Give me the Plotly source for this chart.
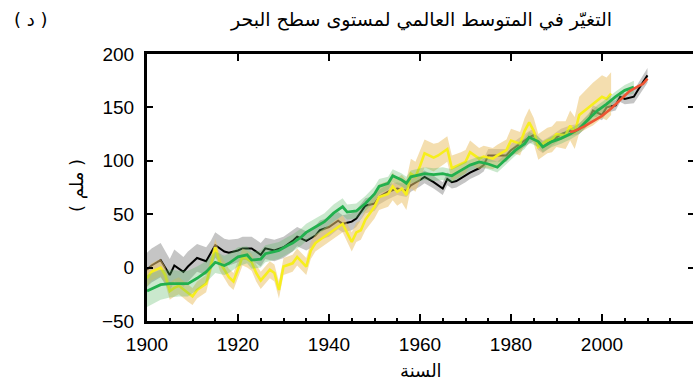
import plotly.graph_objects as go

# ---------------- data ----------------
black_years = [1900, 1901, 1903, 1905, 1906, 1908, 1909, 1911, 1913, 1914, 1915, 1917, 1918, 1920,
               1921, 1923, 1925, 1926, 1928, 1930, 1932, 1933, 1935, 1937, 1938, 1940, 1942, 1943,
               1945, 1946, 1948, 1950, 1951, 1953, 1955, 1957, 1958, 1960, 1961, 1963, 1965, 1966,
               1967, 1968, 1970, 1971, 1973, 1974, 1975, 1977, 1979, 1980, 1982, 1984, 1985, 1986,
               1987, 1989, 1991, 1993, 1995, 1997, 1998, 2000, 2001, 2003, 2004, 2005, 2007, 2008,
               2010]
black_vals = [-2, 2, 7, -7, 2, -4, 1, 9, 6, 13, 21, 15, 14, 16,
              18, 18, 12, 18, 16, 19, 25, 29, 25, 30, 35, 38, 44, 41,
              43, 46, 58, 60, 66, 71, 74, 72, 77, 82, 85, 80, 74, 83,
              80, 81, 86, 89, 93, 96, 105, 105, 105, 110, 116, 122, 124, 116,
              113, 119, 125, 128, 130, 138, 147, 143, 150, 152, 160, 158, 160, 167,
              180]
black_err = [16, 16, 16, 15, 15, 14, 14, 13, 13, 12, 12, 12, 12, 11,
             11, 11, 11, 10, 10, 10, 10, 9, 9, 9, 9, 9, 8, 8,
             8, 8, 7, 7, 7, 7, 6, 6, 6, 6, 6, 6, 6, 6,
             6, 6, 6, 6, 6, 6, 6, 6, 6, 6, 6, 6, 6, 6,
             6, 5, 5, 5, 5, 5, 5, 5, 5, 5, 5, 5, 6, 6,
             7]

yellow_years = [1900, 1901, 1903, 1904, 1905, 1906, 1907, 1909, 1910, 1911, 1913, 1914, 1915, 1916,
                1918, 1919, 1920, 1921, 1922, 1923, 1924, 1925, 1927, 1928, 1929, 1930, 1932, 1933,
                1935, 1936, 1937, 1939, 1940, 1942, 1943, 1945, 1946, 1947, 1948, 1950, 1951, 1953,
                1954, 1955, 1956, 1957, 1958, 1959, 1960, 1961, 1963, 1964, 1966, 1967, 1969, 1970,
                1971, 1973, 1974, 1976, 1977, 1979, 1980, 1982, 1983, 1984, 1985, 1986, 1988, 1989,
                1990, 1992, 1993, 1994, 1995, 1997, 1998, 2000, 2001, 2002]
yellow_vals = [-10, -4, 0, -7, -22, -19, -17, -24, -27, -21, -15, 1, 19, 5,
               -9, -13, -1, 10, 8, 5, -5, -12, -2, -5, -21, 1, 4, 10,
               1, 16, 23, 29, 32, 38, 41, 24, 33, 35, 45, 57, 66, 69,
               76, 71, 74, 68, 88, 85, 95, 107, 103, 105, 111, 93, 97, 99,
               108, 102, 104, 102, 105, 110, 119, 116, 128, 136, 128, 113, 119, 120,
               125, 124, 133, 126, 143, 150, 153, 160, 158, 163]
yellow_err = [8, 8, 8, 8, 8, 8, 8, 8, 8, 8, 8, 8, 8, 8,
              8, 8, 8, 8, 8, 8, 8, 8, 8, 8, 8, 8, 8, 8,
              8, 8, 8, 8, 8, 8, 8, 9, 9, 9, 10, 11, 12, 12,
              13, 13, 13, 14, 14, 14, 14, 13, 13, 12, 12, 12, 11, 11,
              11, 10, 10, 10, 10, 10, 11, 11, 12, 13, 12, 12, 12, 12,
              12, 13, 14, 15, 17, 19, 20, 20, 20, 20]

green_years = [1900, 1903, 1905, 1907, 1909, 1911, 1913, 1915, 1917, 1918, 1920, 1922, 1923, 1925,
               1926, 1928, 1929, 1931, 1932, 1934, 1935, 1937, 1939, 1941, 1943, 1944, 1946, 1948,
               1950, 1951, 1953, 1954, 1956, 1957, 1958, 1961, 1963, 1965, 1967, 1969, 1971, 1973,
               1975, 1977, 1979, 1981, 1983, 1984, 1986, 1987, 1989, 1991, 1993, 1995, 1997, 1999,
               2001, 2003, 2005, 2007]
green_vals = [-22, -16, -15, -15, -15, -10, -4, 5, 2, 4, 10, 12, 7, 8,
              13, 15, 16, 21, 23, 29, 33, 38, 43, 51, 57, 52, 53, 60,
              69, 76, 79, 86, 82, 79, 85, 88, 87, 88, 86, 91, 96, 99,
              97, 94, 102, 110, 116, 122, 118, 113, 118, 121, 125, 130, 139, 147,
              153, 160, 166, 169]
green_err = [15, 14, 13, 12, 12, 11, 10, 10, 9, 9, 9, 8, 8, 8,
             8, 8, 8, 8, 8, 8, 8, 8, 8, 8, 8, 7, 7, 7,
             7, 7, 6, 6, 6, 6, 6, 6, 6, 6, 6, 6, 5, 5,
             5, 5, 5, 5, 5, 5, 5, 5, 5, 5, 5, 5, 5, 5,
             5, 5, 5, 6]

red_years = [1993, 1994, 1996, 1998, 2000, 2002, 2004, 2006, 2008, 2009, 2010]
red_vals = [127, 128, 132, 137, 142, 149, 157, 165, 170, 172, 177]

x_ticks = [1900, 1920, 1940, 1960, 1980, 2000]
y_ticks = [-50, 0, 50, 100, 150, 200]

title_text = "التغيّر في المتوسط العالمي لمستوى سطح البحر"
panel_label = "( د )"
y_title = "( ملم )"
x_title = "السنة"

# ---------------- figure ----------------
fig = go.Figure()


def band(years, vals, err, color):
    upper = [v + e for v, e in zip(vals, err)]
    lower = [v - e for v, e in zip(vals, err)]
    return go.Scatter(x=years + years[::-1], y=upper + lower[::-1], fill="toself",
                      fillcolor=color, line=dict(width=0), mode="lines",
                      hoverinfo="skip", showlegend=False)


def line(years, vals, color, width=2.2):
    return go.Scatter(x=years, y=vals, mode="lines", line=dict(color=color, width=width),
                      showlegend=False)


fig.add_trace(band(black_years, black_vals, black_err, "rgba(150,150,150,0.55)"))
fig.add_trace(line(black_years, black_vals, "#000000", 2))
fig.add_trace(band(yellow_years, yellow_vals, yellow_err, "rgba(235,195,110,0.55)"))
fig.add_trace(line(yellow_years, yellow_vals, "#f7ee1c", 2.6))
fig.add_trace(band(green_years, green_vals, green_err, "rgba(90,185,100,0.32)"))
fig.add_trace(line(green_years, green_vals, "#22b04e", 2.8))
fig.add_trace(line(red_years, red_vals, "#ee5533", 2.6))

# helper invisible traces for the mirror axes
fig.add_trace(go.Scatter(x=[1900], y=[0], xaxis="x2", yaxis="y", mode="markers",
                         marker=dict(opacity=0), hoverinfo="skip", showlegend=False))
fig.add_trace(go.Scatter(x=[1900], y=[0], xaxis="x", yaxis="y2", mode="markers",
                         marker=dict(opacity=0), hoverinfo="skip", showlegend=False))

tick_font = dict(family="Liberation Sans, Arial, sans-serif", size=19, color="black")
arabic_font = "DejaVu Sans, Noto Sans, sans-serif"

# annotation pixel positions (centre), converted to paper coordinates below
plot_l, plot_r, plot_t, plot_b = 147, 693, 54, 321
pw, ph = plot_r - plot_l, plot_b - plot_t


def px(xp, yp):
    return (xp - plot_l) / pw, (plot_b - yp) / ph


tx, ty = px(421, 20)
lx, ly = px(31, 20)
yx, yy = px(77, 186)
xx, xy = px(421, 370)

fig.update_layout(
    width=693, height=385,
    margin=dict(l=plot_l, r=693 - plot_r, t=plot_t, b=385 - plot_b),
    paper_bgcolor="white", plot_bgcolor="white",
    showlegend=False,
    xaxis=dict(range=[1900, 2020], tickvals=x_ticks, ticks="inside", ticklen=7, tickwidth=2,
               tickcolor="black", showline=True, linecolor="black", linewidth=3,
               showgrid=False, zeroline=False, tickfont=tick_font, ticklabelstandoff=4,
               minor=dict(dtick=5, tick0=1900, ticks="inside", ticklen=3, tickwidth=1.5,
                          tickcolor="black", showgrid=False)),
    xaxis2=dict(range=[1900, 2020], overlaying="x", side="top", tickvals=x_ticks,
                ticks="inside", ticklen=7, tickwidth=2, tickcolor="black",
                showline=True, linecolor="black", linewidth=3, showticklabels=False,
                showgrid=False, zeroline=False),
    yaxis=dict(range=[-50, 200], tickvals=y_ticks, ticks="inside", ticklen=6, tickwidth=2,
               tickcolor="black", showline=True, linecolor="black", linewidth=3,
               showgrid=False, zeroline=False, tickfont=tick_font, ticklabelstandoff=6),
    yaxis2=dict(range=[-50, 200], overlaying="y", side="right", tickvals=[0, 50, 100, 150],
                ticks="inside", ticklen=5, tickwidth=2, tickcolor="black", showline=False,
                showticklabels=False, showgrid=False, zeroline=False),
    annotations=[
        dict(text=title_text, x=tx, y=ty, xref="paper", yref="paper", showarrow=False,
             xanchor="center", yanchor="middle",
             font=dict(family=arabic_font, size=19, color="black")),
        dict(text=panel_label, x=lx, y=ly, xref="paper", yref="paper", showarrow=False,
             xanchor="center", yanchor="middle",
             font=dict(family=arabic_font, size=18, color="black")),
        dict(text=y_title, x=yx, y=yy, xref="paper", yref="paper", showarrow=False,
             xanchor="center", yanchor="middle", textangle=-90,
             font=dict(family=arabic_font, size=18, color="black")),
        dict(text=x_title, x=xx, y=xy, xref="paper", yref="paper", showarrow=False,
             xanchor="center", yanchor="middle",
             font=dict(family=arabic_font, size=18, color="black")),
    ],
)

fig.write_html("out.html")
